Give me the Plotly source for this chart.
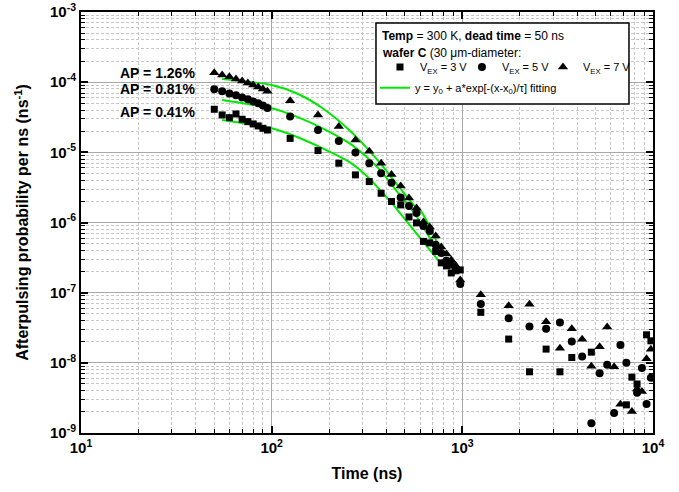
import plotly.graph_objects as go

# tiempos (ns) y probabilidades
time_ns = [50, 55, 60, 65, 70, 75, 80, 85, 90, 95,
           125, 175, 225, 275, 325, 375, 425, 475, 525, 575, 625, 675, 725, 775, 825, 875, 925, 975,
           1250, 1750, 2250, 2750, 3250, 3750, 4250, 4750, 5250, 5750, 6250, 6750, 7250, 7750, 8250, 8750, 9250, 9750]

ap_3v = [4.11e-5, 3.41e-5, 3.12e-5, 3.52e-5, 2.96e-5, 2.74e-5, 2.54e-5, 2.38e-5, 2.20e-5, 2.08e-5,
         1.58e-5, 1.06e-5, 7.0e-6, 4.77e-6, 3.83e-6, 2.61e-6, 1.99e-6, 1.78e-6, 1.20e-6, 9.87e-7,
         5.38e-7, 5.12e-7, 3.87e-7, 2.66e-7, 2.41e-7, 1.91e-7, 2.05e-7, 2.11e-7,
         5.24e-8, 2.18e-8, 7.45e-9, 1.57e-8, 7.45e-9, 1.19e-8, None, 1.42e-8, None, None,
         None, None, 2.52e-9, 6.25e-9, 4.99e-9, None, 2.51e-8, 2.06e-8]

ap_5v = [7.9e-5, 7.4e-5, 6.9e-5, 6.5e-5, 6.05e-5, 5.7e-5, 5.3e-5, 5.0e-5, 4.66e-5, 4.3e-5,
         3.25e-5, 2.08e-5, 1.45e-5, 9.97e-6, 7.0e-6, 5.04e-6, 3.70e-6, 2.28e-6, 1.72e-6, 1.37e-6,
         8.95e-7, 7.59e-7, 4.80e-7, 3.69e-7, 2.84e-7, 2.49e-7, 2.11e-7, 1.33e-7,
         6.92e-8, 4.31e-8, 3.29e-8, 3.05e-8, 3.75e-8, 2.01e-8, 1.23e-8, 1.38e-9, 7.13e-9, 9.37e-9,
         1.92e-9, 1.80e-8, 1.00e-8, None, 3.74e-9, 8.41e-9, 2.58e-9, 6.11e-9]

ap_7v = [1.36e-4, 1.27e-4, 1.19e-4, 1.11e-4, 1.04e-4, 9.7e-5, 9.1e-5, 8.5e-5, 8.0e-5, 7.4e-5,
         5.45e-5, 3.41e-5, 2.34e-5, 1.50e-5, 1.04e-5, 7.0e-6, 4.84e-6, 3.32e-6, 2.24e-6, 1.61e-6,
         1.02e-6, 8.65e-7, 6.44e-7, 4.49e-7, 3.57e-7, 2.93e-7, 2.41e-7, 1.52e-7,
         9.31e-8, 6.49e-8, 6.81e-8, 3.84e-8, 1.62e-8, 3.05e-8, 2.16e-8, 8.91e-9, 1.69e-8, 3.23e-8,
         8.77e-9, 2.56e-9, None, 2.02e-9, 4.22e-9, 3.90e-9, 1.14e-8, 1.56e-8]

# curvas de ajuste
fit_t = [55, 75, 100, 135, 185, 255, 315, 370, 435, 470, 555, 600, 760]
fit_7v = [1.11e-4, 1.016e-4, 9.12e-5, 6.95e-5, 4.25e-5, 2.08e-5, 1.16e-5, 7.06e-6, 4.05e-6, 3.11e-6, 1.78e-6, 1.51e-6, 4.35e-7]
fit_5v = [5.57e-5, 4.89e-5, 4.25e-5, 3.23e-5, 2.20e-5, 1.35e-5, 8.6e-6, 5.61e-6, 3.21e-6, 2.47e-6, 1.42e-6, 1.02e-6, 3.57e-7]
fit_3v = [2.90e-5, 2.54e-5, 2.20e-5, 1.67e-5, 1.14e-5, 7.30e-6, 4.61e-6, 2.91e-6, 1.78e-6, 1.37e-6, 7.85e-7, 6.04e-7, 2.75e-7]

ap_labels = ["AP = 1.26%", "AP = 0.81%", "AP = 0.41%"]

x_ticks = [10, 100, 1000, 10000]
x_ticktext = ["10<sup>1</sup>", "10<sup>2</sup>", "10<sup>3</sup>", "10<sup>4</sup>"]
y_ticks = [1e-9, 1e-8, 1e-7, 1e-6, 1e-5, 1e-4, 1e-3]
y_ticktext = ["10<sup>-9</sup>", "10<sup>-8</sup>", "10<sup>-7</sup>", "10<sup>-6</sup>",
              "10<sup>-5</sup>", "10<sup>-4</sup>", "10<sup>-3</sup>"]
x_minor = [m * d for d in x_ticks[:-1] for m in range(2, 10)]
y_minor = [m * d for d in y_ticks[:-1] for m in range(2, 10)]

FONT = "Liberation Sans, Arial, sans-serif"
GREEN = "#00e800"

fig = go.Figure()

for ys in [fit_3v, fit_5v, fit_7v]:
    fig.add_trace(go.Scatter(x=fit_t, y=ys, mode="lines", line=dict(color=GREEN, width=2, shape="spline"),
                             name="y = y<sub>0</sub> + a*exp[-(x-x<sub>0</sub>)/τ] fitting",
                             legend="legend4", legendgroup="fit", showlegend=(ys is fit_3v)))

series = [(ap_3v, "square", 7, "V<sub>EX</sub> = 3 V", "legend"),
          (ap_5v, "circle", 8, "V<sub>EX</sub> = 5 V", "legend2"),
          (ap_7v, "triangle-up", 9, "V<sub>EX</sub> = 7 V", "legend3")]
for ys, sym, sz, nm, lg in series:
    fig.add_trace(go.Scatter(x=time_ns, y=ys, mode="markers", name=nm, legend=lg,
                             marker=dict(symbol=sym, size=sz, color="black")))

grid_minor = dict(tickmode="array", ticks="inside", ticklen=4, tickcolor="black", tickwidth=1,
                  showgrid=True, gridcolor="#c8c8c8", griddash="3px,2px", gridwidth=1)
axis_common = dict(type="log", showline=True, linewidth=2, linecolor="black", mirror="allticks",
                   ticks="inside", ticklen=7, tickwidth=1.5, tickcolor="black", automargin=False,
                   showgrid=True, gridcolor="#a8a8a8", gridwidth=1, zeroline=False,
                   tickfont=dict(family=FONT, size=15, color="black", weight="bold"),
                   tickmode="array")

fig.update_xaxes(range=[1, 4], tickvals=x_ticks, ticktext=x_ticktext,
                 minor=dict(tickvals=x_minor, **grid_minor),
                 title=dict(text="<b>Time (ns)</b>", font=dict(family=FONT, size=16, color="black"), standoff=13),
                 **axis_common)
fig.update_yaxes(range=[-9, -3], tickvals=y_ticks, ticktext=y_ticktext,
                 minor=dict(tickvals=y_minor, **grid_minor),
                 title=dict(text="<b>Afterpulsing probability per ns (ns<sup>-1</sup>)</b>",
                            font=dict(family=FONT, size=16, color="black"), standoff=17),
                 **axis_common)

fig.add_shape(type="rect", xref="paper", yref="paper", x0=0.5157, x1=0.958, y0=0.7815, y1=0.974,
              line=dict(color="black", width=1.5), fillcolor="white", layer="above")

fig.add_annotation(text="<b>Temp</b> = 300 K, <b>dead time</b> = 50 ns", xref="paper", yref="paper",
                   x=0.523, y=0.944, xanchor="left", yanchor="middle", showarrow=False,
                   font=dict(family=FONT, size=12, color="black"))
fig.add_annotation(text="<b>wafer C</b> (30 μm-diameter:", xref="paper", yref="paper",
                   x=0.523, y=0.903, xanchor="left", yanchor="middle", showarrow=False,
                   font=dict(family=FONT, size=12, color="black"))

for lab, yp in zip(ap_labels, [0.856, 0.816, 0.763]):
    fig.add_annotation(text="<b>" + lab + "</b>", xref="paper", yref="paper", x=0.0647, y=yp,
                       xanchor="left", yanchor="middle", showarrow=False,
                       font=dict(family=FONT, size=14, color="black"))

legend_style = dict(orientation="h", yanchor="top", xanchor="left", bgcolor="rgba(0,0,0,0)",
                    font=dict(family=FONT, size=11, color="black"), itemwidth=30)

fig.update_layout(
    width=679, height=492,
    margin=dict(l=81, r=26, t=12, b=59, autoexpand=False),
    plot_bgcolor="white", paper_bgcolor="white",
    font=dict(family=FONT, size=12, color="black"),
    showlegend=True,
    legend=dict(x=0.5227, y=0.904, **legend_style),
    legend2=dict(x=0.666, y=0.904, **legend_style),
    legend3=dict(x=0.8077, y=0.904, **legend_style),
    legend4=dict(x=0.514, y=0.8544, **legend_style),
)

# quitar el margen por defecto del body para que la figura empiece en (0, 0)
fig.write_html("out.html", config={"displayModeBar": False},
               post_script="document.body.style.margin = '0px';")
